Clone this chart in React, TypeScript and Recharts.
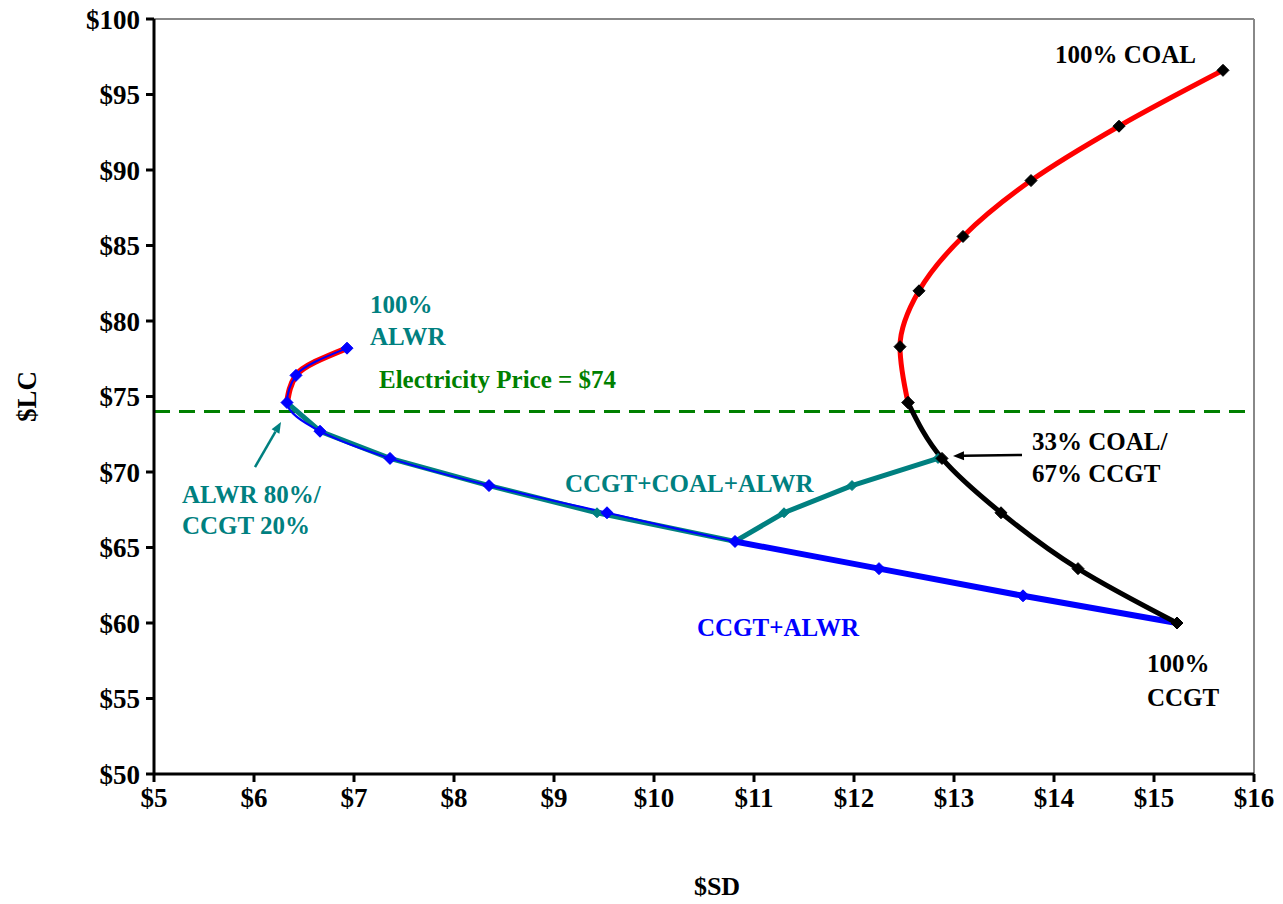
import React from 'react';
import { ComposedChart, Line, XAxis, YAxis, ReferenceLine, ReferenceDot } from 'recharts';

// Two-technology frontier: ALWR (nuclear) blended with CCGT, 100% ALWR -> 100% CCGT
const alwrCcgtSd = [6.93, 6.42, 6.33, 6.66, 7.36, 8.35, 9.53, 10.81, 12.25, 13.69, 15.23];
const alwrCcgtLc = [78.2, 76.4, 74.6, 72.7, 70.9, 69.1, 67.3, 65.4, 63.6, 61.8, 60.0];

// Two-technology frontier: coal blended with CCGT, 100% COAL -> 100% CCGT
const coalCcgtSd = [15.69, 14.65, 13.77, 13.09, 12.65, 12.46, 12.54, 12.88, 13.47, 14.24, 15.23];
const coalCcgtLc = [96.6, 92.9, 89.3, 85.6, 82.0, 78.3, 74.6, 70.9, 67.3, 63.6, 60.0];

// Three-technology path CCGT+COAL+ALWR
const mixSd = [6.33, 6.66, 7.36, 8.35, 9.43, 10.81, 11.3, 11.98, 12.84];
const mixLc = [74.6, 72.7, 70.9, 69.1, 67.3, 65.4, 67.3, 69.1, 70.9];

const xTicks = [5, 6, 7, 8, 9, 10, 11, 12, 13, 14, 15, 16];
const yTicks = [50, 55, 60, 65, 70, 75, 80, 85, 90, 95, 100];
const electricityPrice = 74;

const toPoints = (xs: number[], ys: number[]) => xs.map((x, i) => ({ sd: x, lc: ys[i] }));

const alwrCcgt = toPoints(alwrCcgtSd, alwrCcgtLc);
const coalCcgt = toPoints(coalCcgtSd, coalCcgtLc);
const mix = toPoints(mixSd, mixLc);

const alwrRedPart = alwrCcgt.slice(0, 3);
const alwrThickPart = alwrCcgt.slice(7);
const coalRedPart = coalCcgt.slice(0, 7);
const coalBlackPart = coalCcgt.slice(6);

const FONT = 'Liberation Serif';
const TEAL = '#008080';
const GREEN = '#008000';
const BLUE = '#0000FF';
const RED = '#FF0000';

const diamond = (color: string, half: number) => (props: any) => {
  const { cx, cy, index } = props;
  if (cx == null || cy == null) return <g key={`e-${index}`} />;
  const pts = `${cx},${cy - half} ${cx + half},${cy} ${cx},${cy + half} ${cx - half},${cy}`;
  return <polygon key={`d-${index}`} points={pts} fill={color} stroke={color} strokeWidth={1} />;
};

const annotation = (lines: string[], color: string, size = 25, lineGap = 32) => (props: any) => {
  const { cx, cy } = props;
  return (
    <text x={cx} y={cy} fill={color} fontFamily={FONT} fontWeight="bold" fontSize={size}>
      {lines.map((t, i) => (
        <tspan key={i} x={cx} dy={i === 0 ? 0 : lineGap}>
          {t}
        </tspan>
      ))}
    </text>
  );
};

const arrow = (color: string) => (props: any) => {
  const { x1, y1, x2, y2 } = props;
  const ang = Math.atan2(y2 - y1, x2 - x1);
  const len = 11;
  const w = 4.5;
  const bx = x2 - len * Math.cos(ang);
  const by = y2 - len * Math.sin(ang);
  const px = -Math.sin(ang) * w;
  const py = Math.cos(ang) * w;
  return (
    <g>
      <line x1={x1} y1={y1} x2={bx} y2={by} stroke={color} strokeWidth={2.5} />
      <polygon points={`${x2},${y2} ${bx + px},${by + py} ${bx - px},${by - py}`} fill={color} />
    </g>
  );
};

const tickStyle = { fontSize: 27, fontWeight: 'bold', fill: '#000', fontFamily: FONT };

export default function App() {
  return (
    <div style={{ position: 'absolute', left: 0, top: 0, width: 1283, height: 904, background: '#fff' }}>
      <ComposedChart width={1283} height={904} margin={{ top: 19, right: 29, bottom: 0, left: 0 }}>
        <XAxis
          type="number"
          dataKey="sd"
          domain={[5, 16]}
          ticks={xTicks}
          allowDataOverflow
          height={130}
          stroke="#000"
          strokeWidth={3}
          tickSize={8}
          tickLine={{ stroke: '#000', strokeWidth: 3 }}
          tick={tickStyle}
          tickMargin={6}
          tickFormatter={(v: number) => `$${v}`}
          label={{
            value: '$SD',
            position: 'insideBottom',
            offset: 9,
            dx: 13,
            style: { fontSize: 26, fontWeight: 'bold', fill: '#000', fontFamily: FONT },
          }}
        />
        <YAxis
          type="number"
          dataKey="lc"
          domain={[50, 100]}
          ticks={yTicks}
          allowDataOverflow
          width={154}
          stroke="#000"
          strokeWidth={3}
          tickSize={8}
          tickLine={{ stroke: '#000', strokeWidth: 3 }}
          tick={tickStyle}
          tickMargin={6}
          tickFormatter={(v: number) => `$${v}`}
          label={{
            value: '$LC',
            angle: -90,
            position: 'insideLeft',
            offset: 26,
            style: { fontSize: 27, fontWeight: 'bold', fill: '#000', fontFamily: FONT, textAnchor: 'middle' },
          }}
        />

        {/* plot frame on the top and right */}
        <ReferenceLine y={100} stroke="#888" strokeWidth={2} />
        <ReferenceLine x={16} stroke="#888" strokeWidth={2} />

        <ReferenceLine y={electricityPrice} stroke={GREEN} strokeWidth={3} strokeDasharray="16 9" />

        <Line data={alwrRedPart} dataKey="lc" type="monotoneY" stroke={RED} strokeWidth={6} dot={false} isAnimationActive={false} />
        <Line data={mix} dataKey="lc" type="linear" stroke={TEAL} strokeWidth={5} dot={diamond(TEAL, 5)} isAnimationActive={false} />
        <Line data={alwrThickPart} dataKey="lc" type="linear" stroke={BLUE} strokeWidth={6} dot={false} isAnimationActive={false} />
        <Line data={alwrCcgt} dataKey="lc" type="monotoneY" stroke={BLUE} strokeWidth={2} dot={diamond(BLUE, 6)} isAnimationActive={false} />
        <Line data={coalRedPart} dataKey="lc" type="monotoneY" stroke={RED} strokeWidth={5} dot={diamond('#000', 6)} isAnimationActive={false} />
        <Line data={coalBlackPart} dataKey="lc" type="monotoneY" stroke="#000" strokeWidth={5} dot={diamond('#000', 6)} isAnimationActive={false} />

        <ReferenceLine segment={[{ x: 6.01, y: 70.33 }, { x: 6.27, y: 73.31 }]} shape={arrow(TEAL)} />
        <ReferenceLine segment={[{ x: 13.68, y: 71.13 }, { x: 12.99, y: 71.06 }]} shape={arrow('#000')} />

        <ReferenceDot x={14.01} y={97.09} r={0} shape={annotation(['100%  COAL'], '#000')} />
        <ReferenceDot x={7.16} y={80.53} r={0} shape={annotation(['100%', 'ALWR'], TEAL)} />
        <ReferenceDot x={7.25} y={75.56} r={0} shape={annotation(['Electricity Price = $74'], GREEN)} />
        <ReferenceDot x={5.28} y={67.95} r={0} shape={annotation(['ALWR 80%/', 'CCGT 20%'], TEAL, 25, 31)} />
        <ReferenceDot x={9.11} y={68.68} r={0} shape={annotation(['CCGT+COAL+ALWR'], TEAL)} />
        <ReferenceDot x={13.78} y={71.46} r={0} shape={annotation(['33% COAL/', '67% CCGT'], '#000')} />
        <ReferenceDot x={10.43} y={59.14} r={0} shape={annotation(['CCGT+ALWR'], BLUE)} />
        <ReferenceDot x={14.93} y={56.75} r={0} shape={annotation(['100%', 'CCGT'], '#000', 25, 34)} />
      </ComposedChart>
    </div>
  );
}
